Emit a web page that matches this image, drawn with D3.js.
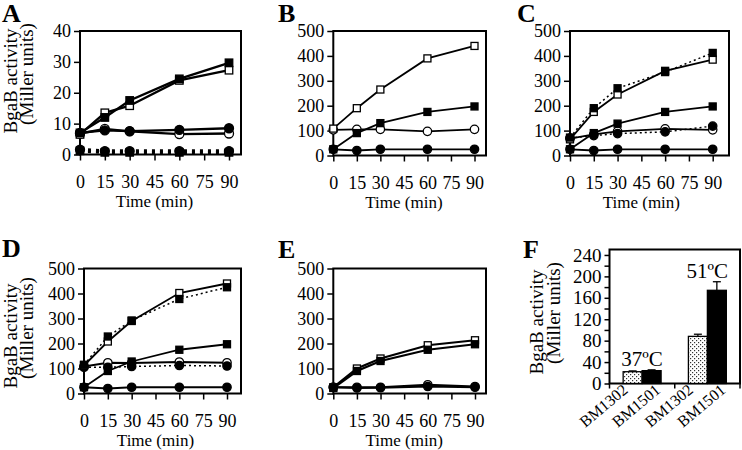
<!DOCTYPE html>
<html><head><meta charset="utf-8">
<script src="https://cdn.jsdelivr.net/npm/d3@7"></script>
<style>
body{margin:0;background:#fff}
svg{display:block}
</style>
</head><body><svg id="c" width="742" height="450"></svg>
<script>
// ---------- data ----------
const times = [0, 15, 30, 60, 90];
const timeTicks = [0, 15, 30, 45, 60, 75, 90];
const aTicks = [0, 10, 20, 30, 40];
const bigTicks = [0, 100, 200, 300, 400, 500];

// Panel A
const aFilledSquare = [7, 12, 17.5, 24.5, 29.7];
const aOpenSquare = [6.5, 13.5, 15.8, 24, 27.3];
const aOpenCircle = [6.8, 8.3, 7.5, 6.6, 6.8];
const aFilledCircle = [7, 7.8, 7.6, 8, 8.5];
const aFilledSquareDot = [1.2, 0.7, 0.7, 0.7, 0.7];
const aFilledCircleDot = [1.6, 1.1, 1.1, 1.1, 1.1];
// Panel B
const bOpenSquare = [108, 190, 265, 390, 440];
const bFilledSquare = [25, 90, 130, 175, 197];
const bOpenCircle = [103, 105, 105, 97, 105];
const bFilledCircle = [25, 20, 25, 25, 25];
// Panel C
const cOpenSquare = [65, 175, 245, 340, 385];
const cFilledSquareDot = [72, 190, 270, 335, 412];
const cFilledSquare = [25, 90, 128, 175, 197];
const cOpenCircle = [68, 85, 97, 107, 103];
const cFilledCircleDot = [70, 80, 88, 95, 118];
const cFilledCircle = [25, 20, 25, 25, 25];
// Panel D
const dOpenSquare = [112, 208, 290, 402, 440];
const dFilledSquareDot = [115, 228, 292, 378, 425];
const dFilledSquare = [25, 90, 128, 175, 197];
const dOpenCircle = [108, 123, 122, 126, 123];
const dFilledCircleDot = [105, 105, 108, 112, 110];
const dFilledCircle = [25, 20, 25, 25, 25];
// Panel E
const eOpenSquare = [25, 100, 140, 193, 213];
const eFilledSquare = [22, 90, 130, 175, 197];
const eOpenCircle = [25, 25, 25, 35, 28];
const eFilledCircle = [25, 22, 23, 28, 25];
// Panel F
const fTemps = ["37ºC", "51ºC"];
const fStrains = ["BM1302", "BM1501"];
const bm1302Mean = [22, 88];
const bm1302Err = [1.5, 4];
const bm1501Mean = [24, 174];
const bm1501Err = [1.5, 16];
const fTicks = [0, 40, 80, 120, 160, 200, 240];

// ---------- drawing ----------
const SERIF = '"Liberation Serif", "Times New Roman", serif';
const svg = d3.select("#c");
const defs = svg.append("defs");
const pat = defs.append("pattern").attr("id", "dots").attr("patternUnits", "userSpaceOnUse")
  .attr("width", 4).attr("height", 4);
pat.append("rect").attr("width", 4).attr("height", 4).attr("fill", "#fff");
pat.append("rect").attr("x", 0).attr("y", 0).attr("width", 1.2).attr("height", 1.2).attr("fill", "#333");
pat.append("rect").attr("x", 2).attr("y", 2).attr("width", 1.2).attr("height", 1.2).attr("fill", "#333");

function txt(sel) { return sel.style("font-family", SERIF).attr("fill", "#000"); }

function styleAxis(sel, size) {
  sel.attr("font-size", size).attr("font-family", null);
  sel.selectAll(".domain").remove();
  sel.selectAll(".tick line").attr("stroke", "#000").attr("stroke-width", 1.5);
  sel.selectAll("text").style("font-family", SERIF).attr("fill", "#000");
}

function drawLinePanel(p) {
  const x = d3.scaleLinear().domain([0, 90]).range([p.x0, p.x90]);
  const y = d3.scaleLinear().domain([0, p.yMax]).range([p.yB, p.yT]);
  const g = svg.append("g");
  const xa = g.append("g").attr("transform", `translate(0,${p.yB})`)
    .call(d3.axisBottom(x).tickValues(timeTicks).tickSize(6).tickPadding(15).tickFormat(d3.format("d")));
  styleAxis(xa, 18);
  const ya = g.append("g").attr("transform", `translate(${p.x0},0)`)
    .call(d3.axisLeft(y).tickValues(p.ticks).tickSize(6).tickPadding(3).tickFormat(d3.format("d")));
  styleAxis(ya, 18);
  g.append("path").attr("d", `M${p.x0},${p.yT}H${p.right}V${p.yB}H${p.x0}Z`)
    .attr("fill", "none").attr("stroke", "#000").attr("stroke-width", 2);

  const line = d3.line().x((d, i) => x(times[i])).y(d => y(d));
  p.series.forEach(s => {
    g.append("path").attr("d", line(s.values)).attr("fill", "none").attr("stroke", "#000")
      .attr("stroke-width", s.dash ? p.dashW : p.lineW)
      .attr("stroke-dasharray", s.dash ? p.dashPattern : null);
  });
  p.series.forEach(s => {
    const mg = g.append("g");
    s.values.forEach((v, i) => {
      const cx = x(times[i]), cy = y(v);
      if (s.marker === "square") {
        mg.append("rect").attr("x", cx - p.sq / 2).attr("y", cy - p.sq / 2)
          .attr("width", p.sq).attr("height", p.sq)
          .attr("fill", s.filled ? "#000" : "#fff").attr("stroke", "#000").attr("stroke-width", 1.3);
      } else {
        mg.append("circle").attr("cx", cx).attr("cy", cy).attr("r", p.r)
          .attr("fill", s.filled ? "#000" : "#fff").attr("stroke", "#000").attr("stroke-width", 1.3);
      }
    });
  });
  txt(g.append("text")).attr("x", (p.x0 + p.x90) / 2).attr("y", p.yB + 52)
    .attr("text-anchor", "middle").attr("font-size", 17).text("Time (min)");
  txt(g.append("text")).attr("x", p.lx).attr("y", p.ly).attr("font-size", 26)
    .attr("font-weight", "bold").text(p.letter);
}

function yTitle(cx1, cy1, cx2, cy2) {
  txt(svg.append("text")).attr("transform", `translate(${cx1},${cy1}) rotate(-90)`)
    .attr("text-anchor", "middle").attr("font-size", 19).text("BgaB activity");
  txt(svg.append("text")).attr("transform", `translate(${cx2},${cy2}) rotate(-90)`)
    .attr("text-anchor", "middle").attr("font-size", 19).text("(Miller units)");
}

const thin = { lineW: 1.8, dashW: 1.5, dashPattern: "2,3", sq: 7, r: 4.2 };

drawLinePanel(Object.assign({}, thin, {
  letter: "A", lx: 2, ly: 22, x0: 80, x90: 229, right: 241, yT: 31, yB: 154.5, yMax: 40, ticks: aTicks,
  lineW: 2.3, dashW: 3.5, dashPattern: "3,5", sq: 7.5, r: 4.5,
  series: [
    { values: aFilledSquareDot, marker: "square", filled: true, dash: true },
    { values: aFilledCircleDot, marker: "circle", filled: true, dash: true },
    { values: aOpenCircle, marker: "circle", filled: false },
    { values: aFilledCircle, marker: "circle", filled: true },
    { values: aOpenSquare, marker: "square", filled: false },
    { values: aFilledSquare, marker: "square", filled: true }
  ]
}));

drawLinePanel(Object.assign({}, thin, {
  letter: "B", lx: 278, ly: 22, x0: 333.3, x90: 474.5, right: 486, yT: 31, yB: 155.5, yMax: 500, ticks: bigTicks,
  series: [
    { values: bFilledCircle, marker: "circle", filled: true },
    { values: bOpenCircle, marker: "circle", filled: false },
    { values: bFilledSquare, marker: "square", filled: true },
    { values: bOpenSquare, marker: "square", filled: false }
  ]
}));

drawLinePanel(Object.assign({}, thin, {
  letter: "C", lx: 517, ly: 22, x0: 570, x90: 712.7, right: 729, yT: 31, yB: 155.5, yMax: 500, ticks: bigTicks,
  series: [
    { values: cFilledCircle, marker: "circle", filled: true },
    { values: cOpenCircle, marker: "circle", filled: false },
    { values: cFilledCircleDot, marker: "circle", filled: true, dash: true },
    { values: cFilledSquare, marker: "square", filled: true },
    { values: cOpenSquare, marker: "square", filled: false },
    { values: cFilledSquareDot, marker: "square", filled: true, dash: true }
  ]
}));

drawLinePanel(Object.assign({}, thin, {
  letter: "D", lx: 2, ly: 257, x0: 84, x90: 227, right: 241, yT: 268.5, yB: 393.5, yMax: 500, ticks: bigTicks,
  series: [
    { values: dFilledCircle, marker: "circle", filled: true },
    { values: dOpenCircle, marker: "circle", filled: false },
    { values: dFilledCircleDot, marker: "circle", filled: true, dash: true },
    { values: dFilledSquare, marker: "square", filled: true },
    { values: dOpenSquare, marker: "square", filled: false },
    { values: dFilledSquareDot, marker: "square", filled: true, dash: true }
  ]
}));

drawLinePanel(Object.assign({}, thin, {
  letter: "E", lx: 278, ly: 258, x0: 333.3, x90: 475, right: 486, yT: 268.5, yB: 393.5, yMax: 500, ticks: bigTicks,
  lineW: 2.2,
  series: [
    { values: eOpenCircle, marker: "circle", filled: false },
    { values: eFilledCircle, marker: "circle", filled: true },
    { values: eOpenSquare, marker: "square", filled: false },
    { values: eFilledSquare, marker: "square", filled: true }
  ]
}));

yTitle(17, 81, 33, 74);
yTitle(17, 336, 33, 328);

// ---------- Panel F ----------
(function () {
  const left = 609.5, right = 740, yB = 383.5, yT = 249.6;
  const y = d3.scaleLinear().domain([0, 250]).range([yB, yT]);
  const x0 = d3.scaleBand().domain(fTemps).range([left, right]);
  const x1 = d3.scaleBand().domain(fStrains).range([0, x0.bandwidth()]).paddingOuter(0.72);
  const labelKeys = [];
  fTemps.forEach(t => fStrains.forEach(s => labelKeys.push(t + "|" + s)));
  const xl = d3.scaleBand().domain(labelKeys).range([left, right]);
  const g = svg.append("g");
  const ya = g.append("g").attr("transform", `translate(${left},0)`)
    .call(d3.axisLeft(y).tickValues(d3.range(0, 241, 20)).tickSize(5).tickPadding(3)
      .tickFormat(d => fTicks.includes(d) ? d : ""));
  styleAxis(ya, 19);
  [left, x0("51ºC"), right].forEach(xx => {
    g.append("line").attr("x1", xx).attr("x2", xx).attr("y1", yB).attr("y2", yB + 5)
      .attr("stroke", "#000").attr("stroke-width", 1.5);
  });
  g.append("path").attr("d", `M${left},${yT}H${right}V${yB}H${left}Z`)
    .attr("fill", "none").attr("stroke", "#000").attr("stroke-width", 2);

  const strainData = [
    { strain: "BM1302", means: bm1302Mean, errs: bm1302Err, fill: "url(#dots)" },
    { strain: "BM1501", means: bm1501Mean, errs: bm1501Err, fill: "#000" }
  ];
  strainData.forEach(sd => {
    fTemps.forEach((t, i) => {
      const bx = x0(t) + x1(sd.strain), bw = x1.bandwidth();
      const cx = bx + bw / 2;
      const top = y(sd.means[i] + sd.errs[i]);
      g.append("line").attr("x1", cx).attr("x2", cx).attr("y1", y(sd.means[i])).attr("y2", top)
        .attr("stroke", "#000").attr("stroke-width", 1.3);
      g.append("line").attr("x1", cx - 4).attr("x2", cx + 4).attr("y1", top).attr("y2", top)
        .attr("stroke", "#000").attr("stroke-width", 1.3);
      g.append("rect").attr("x", bx).attr("y", y(sd.means[i])).attr("width", bw)
        .attr("height", yB - y(sd.means[i])).attr("fill", sd.fill).attr("stroke", "#000").attr("stroke-width", 1.3);
      const lx = xl(t + "|" + sd.strain) + xl.bandwidth() / 2 + 3;
      txt(g.append("text")).attr("transform", `translate(${lx},${yB + 8}) rotate(-40)`)
        .attr("text-anchor", "end").attr("font-size", 16).text(sd.strain);
    });
  });
  fTemps.forEach((t, i) => {
    const top = Math.max(bm1302Mean[i] + bm1302Err[i], bm1501Mean[i] + bm1501Err[i]);
    txt(g.append("text")).attr("x", x0(t) + x0.bandwidth() / 2).attr("y", y(top) - 4)
      .attr("text-anchor", "middle").attr("font-size", 21).text(t);
  });
  txt(g.append("text")).attr("x", 523).attr("y", 258).attr("font-size", 26).attr("font-weight", "bold").text("F");
})();
yTitle(543, 322, 560, 313);
</script>
</body></html>
